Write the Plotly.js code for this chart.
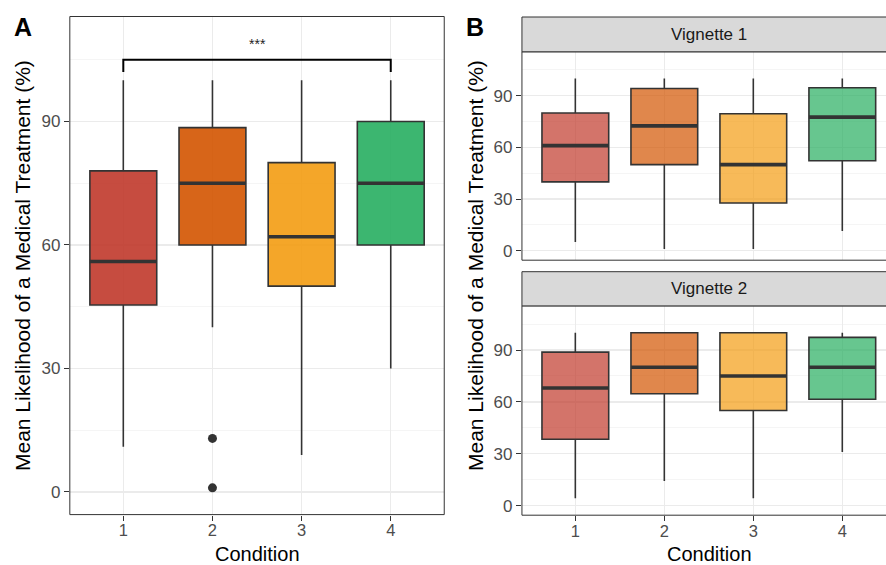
<!DOCTYPE html>
<html>
<head>
<meta charset="utf-8">
<script src="https://cdn.plot.ly/plotly-3.0.1.min.js"></script>
<style>
  html, body { margin: 0; padding: 0; background: #ffffff; }
  #chart { width: 886px; height: 565px; }
</style>
</head>
<body>
<div id="chart"></div>
<script>
// ---------------- DATA ----------------
const conditions = [1, 2, 3, 4];
const conditionLabels = ['1', '2', '3', '4'];
const yTicks = [0, 30, 60, 90];
const yMinorTicks = [15, 45, 75, 105];

// Panel A: all vignettes
const aLower  = [11, 40, 9, 30];
const aQ1     = [45.4, 60, 50, 60];
const aMedian = [56, 75, 62, 75];
const aQ3     = [78, 88.5, 80, 90];
const aUpper  = [100, 100, 100, 100];
const aOutlierX = [2, 2];
const aOutlierY = [13, 1];

// Significance bracket (panel A)
const sigFrom = [1];
const sigTo = [4];
const sigY = [105];
const sigLabel = ['***'];

// Panel B: Vignette 1
const v1Lower  = [5, 1, 1, 11.4];
const v1Q1     = [40, 50, 27.7, 52.2];
const v1Median = [61, 72.5, 50, 77.6];
const v1Q3     = [80, 94.2, 79.5, 94.6];
const v1Upper  = [100, 100, 100, 100];

// Panel B: Vignette 2
const v2Lower  = [4.3, 14.3, 4.3, 31];
const v2Q1     = [38.4, 64.7, 55, 61.5];
const v2Median = [68, 80, 75, 80];
const v2Q3     = [88.8, 100, 100, 97.3];
const v2Upper  = [100, 100, 100, 100];

const facetLabels = ['Vignette 1', 'Vignette 2'];
const yTitle = 'Mean Likelihood of a Medical Treatment (%)';
const xTitle = 'Condition';

// ---------------- STYLE ----------------
const baseRGB = [[192, 57, 43], [211, 84, 0], [243, 156, 18], [39, 174, 96]];
const colA = baseRGB.map(c => `rgba(${c[0]},${c[1]},${c[2]},0.9)`);
const colB = baseRGB.map(c => `rgba(${c[0]},${c[1]},${c[2]},0.7)`);
const dark = '#333333';
const FONT = 'Liberation Sans, Arial, Helvetica, sans-serif';
const W = 886, H = 565;
const px = v => v / W;
const py = v => 1 - v / H;
const BOXW = 0.75;

const traces = [];
function addPanel(xa, ya, lower, q1, med, q3, upper, cols) {
  conditions.forEach((c, i) => {
    traces.push({
      type: 'box', x: [c], q1: [q1[i]], median: [med[i]], q3: [q3[i]],
      lowerfence: [lower[i]], upperfence: [upper[i]],
      width: BOXW, whiskerwidth: 0, boxpoints: false,
      fillcolor: cols[i], line: { color: dark, width: 1.6 },
      xaxis: xa, yaxis: ya, showlegend: false, hoverinfo: 'skip'
    });
  });
  const mx = [], my = [];
  conditions.forEach((c, i) => {
    mx.push(c - BOXW / 2, c + BOXW / 2, null);
    my.push(med[i], med[i], null);
  });
  traces.push({
    type: 'scatter', mode: 'lines', x: mx, y: my,
    line: { color: dark, width: 3.6 }, xaxis: xa, yaxis: ya,
    showlegend: false, hoverinfo: 'skip'
  });
}
addPanel('x', 'y', aLower, aQ1, aMedian, aQ3, aUpper, colA);
addPanel('x2', 'y2', v1Lower, v1Q1, v1Median, v1Q3, v1Upper, colB);
addPanel('x3', 'y3', v2Lower, v2Q1, v2Median, v2Q3, v2Upper, colB);

traces.push({
  type: 'scatter', mode: 'markers', x: aOutlierX, y: aOutlierY,
  marker: { color: dark, size: 9 }, xaxis: 'x', yaxis: 'y',
  showlegend: false, hoverinfo: 'skip'
});

// ---------------- AXES ----------------
const tickFont = { family: FONT, size: 17, color: '#4D4D4D' };
function xAxis(domain, range, anchor, showLabels) {
  return {
    domain: domain, range: range, anchor: anchor,
    tickmode: 'array', tickvals: conditions, ticktext: conditionLabels,
    showticklabels: showLabels, ticks: showLabels ? 'outside' : '',
    ticklen: 5, tickcolor: dark, tickwidth: 1, ticklabelstandoff: -4,
    showgrid: true, gridcolor: '#EBEBEB', gridwidth: 1.2,
    zeroline: false, showline: false, tickfont: { family: FONT, size: 16.5, color: '#4D4D4D' }, fixedrange: true
  };
}
function yAxis(domain, range, anchor) {
  return {
    domain: domain, range: range, anchor: anchor,
    tickmode: 'array', tickvals: yTicks, ticktext: yTicks.map(String),
    ticks: 'outside', ticklen: 5, tickcolor: dark, tickwidth: 1,
    showgrid: true, gridcolor: '#EBEBEB', gridwidth: 1.2,
    minor: { tickmode: 'array', tickvals: yMinorTicks, showgrid: true, gridcolor: '#F3F3F3', gridwidth: 0.8, ticks: '' },
    zeroline: false, showline: false, tickfont: tickFont, fixedrange: true
  };
}

const yRange = [-5.5, 115.5];
const xA = [0.0788, 0.5014];
const xB = [0.5891, 1];
const yAdom = [py(514.6), py(16.5)];
const yB1dom = [py(260.2), py(51.8)];
const yB2dom = [py(515.2), py(305.9)];

// ---------------- SHAPES ----------------
const shapes = [];
// panel borders
[['x', 'y'], ['x2', 'y2'], ['x3', 'y3']].forEach(([xa, ya], k) => {
  shapes.push({
    type: 'rect', xref: xa + ' domain', yref: ya + ' domain',
    x0: 0, x1: k === 0 ? 1 : 1.05, y0: 0, y1: 1,
    line: { color: dark, width: 1 }, fillcolor: 'rgba(0,0,0,0)', layer: 'above'
  });
});
// strips
const stripBounds = [[51.8, 17], [305.9, 271.7]];
stripBounds.forEach(b => {
  shapes.push({
    type: 'rect', xref: 'paper', yref: 'paper',
    x0: xB[0], x1: 1.05, y0: py(b[0]), y1: py(b[1]),
    fillcolor: '#D9D9D9', line: { color: dark, width: 1 }, layer: 'above'
  });
});
// significance bracket
const tip = 3;
sigFrom.forEach((f, i) => {
  shapes.push({
    type: 'path', xref: 'x', yref: 'y',
    path: `M ${f},${sigY[i] - tip} L ${f},${sigY[i]} L ${sigTo[i]},${sigY[i]} L ${sigTo[i]},${sigY[i] - tip}`,
    line: { color: '#000000', width: 2 }, layer: 'above'
  });
});

// ---------------- ANNOTATIONS ----------------
const annotations = [];
sigFrom.forEach((f, i) => {
  annotations.push({
    xref: 'x', yref: 'y', x: (f + sigTo[i]) / 2, y: sigY[i] + 1.5,
    text: sigLabel[i], showarrow: false, yanchor: 'bottom',
    font: { family: FONT, size: 14, color: '#222222' }
  });
});
annotations.push(
  { xref: 'paper', yref: 'paper', x: px(23), y: py(27.5), text: '<b>A</b>', showarrow: false,
    xanchor: 'center', yanchor: 'middle', font: { family: FONT, size: 25, color: '#000' } },
  { xref: 'paper', yref: 'paper', x: px(475), y: py(27.5), text: '<b>B</b>', showarrow: false,
    xanchor: 'center', yanchor: 'middle', font: { family: FONT, size: 25, color: '#000' } },
  { xref: 'paper', yref: 'paper', x: px(22.5), y: py(265.5), text: yTitle, textangle: -90, showarrow: false,
    xanchor: 'center', yanchor: 'middle', font: { family: FONT, size: 21, color: '#000' } },
  { xref: 'paper', yref: 'paper', x: px(475), y: py(266), text: yTitle, textangle: -90, showarrow: false,
    xanchor: 'center', yanchor: 'middle', font: { family: FONT, size: 21, color: '#000' } },
  { xref: 'paper', yref: 'paper', x: px(257), y: py(553.5), text: xTitle, showarrow: false,
    xanchor: 'center', yanchor: 'middle', font: { family: FONT, size: 20, color: '#000' } },
  { xref: 'paper', yref: 'paper', x: px(709), y: py(553.5), text: xTitle, showarrow: false,
    xanchor: 'center', yanchor: 'middle', font: { family: FONT, size: 20, color: '#000' } },
  { xref: 'paper', yref: 'paper', x: px(709), y: py(34.4), text: facetLabels[0], showarrow: false,
    xanchor: 'center', yanchor: 'middle', font: { family: FONT, size: 17, color: '#1A1A1A' } },
  { xref: 'paper', yref: 'paper', x: px(709), y: py(288.8), text: facetLabels[1], showarrow: false,
    xanchor: 'center', yanchor: 'middle', font: { family: FONT, size: 17, color: '#1A1A1A' } }
);

const layout = {
  width: W, height: H,
  margin: { l: 0, r: 0, t: 0, b: 0, pad: 0 },
  paper_bgcolor: '#ffffff', plot_bgcolor: '#ffffff',
  showlegend: false, boxmode: 'overlay',
  font: { family: FONT },
  xaxis: xAxis(xA, [0.4, 4.6], 'y', true),
  yaxis: yAxis(yAdom, yRange, 'x'),
  xaxis2: xAxis(xB, [0.4, 4.491], 'y2', false),
  yaxis2: yAxis(yB1dom, yRange, 'x2'),
  xaxis3: xAxis(xB, [0.4, 4.491], 'y3', true),
  yaxis3: yAxis(yB2dom, yRange, 'x3'),
  shapes: shapes,
  annotations: annotations
};

Plotly.newPlot('chart', traces, layout, { displayModeBar: false, staticPlot: true });
</script>
</body>
</html>
